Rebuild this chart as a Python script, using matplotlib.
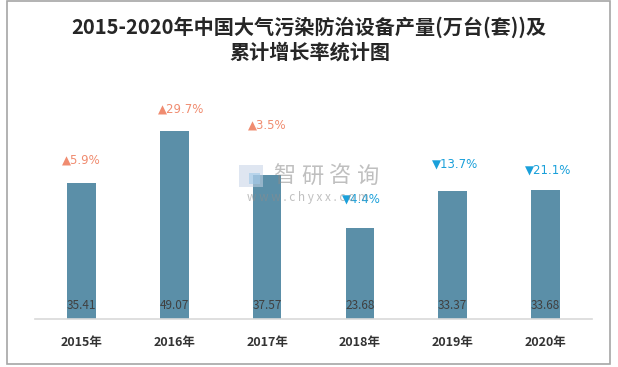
import matplotlib
matplotlib.use("Agg")
import matplotlib.pyplot as plt
from matplotlib.patches import Rectangle

plt.rcParams['font.family'] = ['Noto Sans CJK SC', 'DejaVu Sans']

years = ["2015年", "2016年", "2017年", "2018年", "2019年", "2020年"]
output = [35.41, 49.07, 37.57, 23.68, 33.37, 33.68]
growth = ["5.9%", "29.7%", "3.5%", "4.4%", "13.7%", "21.1%"]
direction = ["up", "up", "up", "down", "down", "down"]
label_y = [41.5, 54.8, 50.7, 31.3, 40.5, 38.9]
label_dx = [0.0, 0.07, 0.0, 0.02, 0.03, 0.03]

fig = plt.figure(figsize=(6.18, 3.67), dpi=100)
W, H = 618, 367
ax = fig.add_axes([35 / W, 1 - 319 / H, 557 / W, 239 / H])
x = list(range(len(years)))
ax.bar(x, output, width=0.31, color="#5B8FA8")
ax.set_xlim(-0.5, len(years) - 0.5)
ax.set_ylim(0, 239 / 3.83)
for s in ["top", "right", "left"]:
    ax.spines[s].set_visible(False)
ax.spines["bottom"].set_color("#D9D9D9")
ax.spines["bottom"].set_linewidth(1.2)
ax.set_yticks([])
ax.set_xticks(x)
ax.set_xticklabels(years, fontsize=9, fontweight="bold", color="#333333")
ax.tick_params(axis="x", length=0, pad=12)

for xi, v in zip(x, output):
    ax.text(xi, 3.4, f"{v:.2f}", ha="center", va="center", fontsize=8.5,
            color="#404040")

for xi, g, d, ly, dx in zip(x, growth, direction, label_y, label_dx):
    col = "#F08C70" if d == "up" else "#1AA0DA"
    sym = "▲" if d == "up" else "▼"
    ax.text(xi + dx, ly, sym + g, ha="center", va="center", fontsize=8.5,
            color=col, family=["DejaVu Sans"])

# watermark
fig.patches.append(Rectangle((239 / W, 1 - 187 / H), 24 / W, 22 / H,
                             transform=fig.transFigure, facecolor="#C5D3E6",
                             edgecolor="none", alpha=0.55))
fig.patches.append(Rectangle((249 / W, 1 - 184 / H), 11 / W, 11 / H,
                             transform=fig.transFigure, facecolor="#9FC8E8",
                             edgecolor="none", alpha=0.6))
for i, ch in enumerate("智研咨询"):
    fig.text((284 + 28 * i) / W, 1 - 176 / H, ch, fontsize=16, color="#8C8C8C",
             alpha=0.55, ha="center", va="center")
fig.text(308 / W, 1 - 197 / H, "w w w . c h y x x . c o m", fontsize=8.5,
         color="#8C8C8C", alpha=0.55, ha="center", va="center")

fig.text(309 / W, 1 - 27 / H, "2015-2020年中国大气污染防治设备产量(万台(套))及",
         fontsize=14.5, fontweight="bold", color="#262626", ha="center", va="center")
fig.text(310 / W, 1 - 52 / H, "累计增长率统计图",
         fontsize=14.5, fontweight="bold", color="#262626", ha="center", va="center")

fig.patches.append(Rectangle((7 / W, 1 - 364 / H), 603 / W, 363 / H,
                             transform=fig.transFigure, fill=False,
                             edgecolor="#A6A6A6", linewidth=1.2))

fig.savefig("out.png", dpi=100)
